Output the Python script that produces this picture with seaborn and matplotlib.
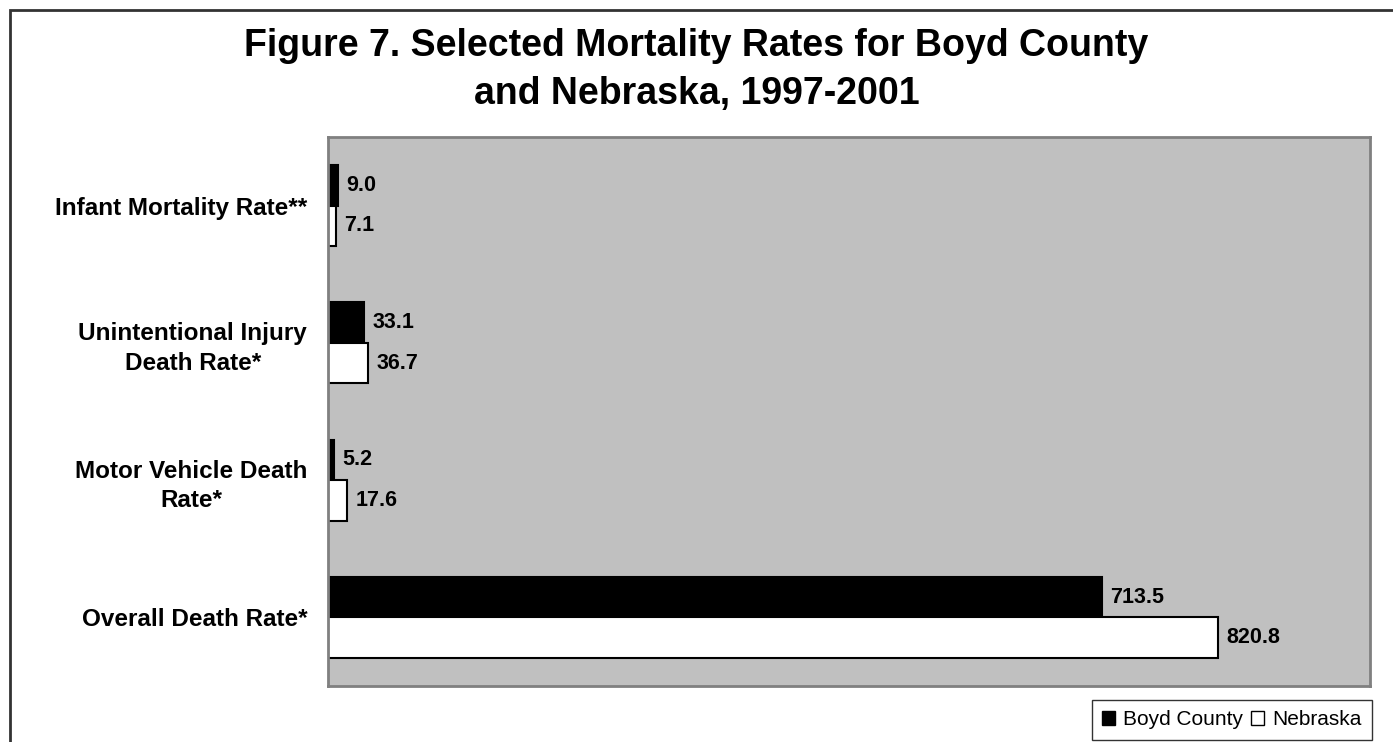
import pandas as pd
import seaborn as sns
import matplotlib.pyplot as plt
from matplotlib.patches import Patch, Rectangle

# values
categories = ['Infant Mortality Rate**', 'Unintentional Injury\nDeath Rate*',
              'Motor Vehicle Death\nRate*', 'Overall Death Rate*']
boyd_county = [9.0, 33.1, 5.2, 713.5]
nebraska = [7.1, 36.7, 17.6, 820.8]
series = ['Boyd County', 'Nebraska']

data = pd.DataFrame({
    'Category': categories * 2,
    'Rate': boyd_county + nebraska,
    'Area': [series[0]] * 4 + [series[1]] * 4,
})

sns.set_style('white')
plt.rcParams['font.family'] = ['Liberation Sans', 'DejaVu Sans']
plt.rcParams['text.color'] = 'black'
plt.rcParams['ytick.color'] = 'black'

fig = plt.figure(figsize=(13.93, 7.42), dpi=100)
ax = fig.add_axes([328 / 1393, 1 - 686 / 742, (1370 - 328) / 1393, (686 - 137) / 742])

sns.barplot(data=data, y='Category', x='Rate', hue='Area', orient='h',
            palette={'Boyd County': 'black', 'Nebraska': 'white'},
            edgecolor='black', linewidth=1.5, width=0.59, ax=ax, legend=False)

ax.set_facecolor('#C0C0C0')
ax.set_xlim(0, 961)
ax.set_xticks([])
ax.set_xlabel('')
ax.set_ylabel('')
ax.tick_params(axis='y', length=0, pad=15)
for lbl in ax.get_yticklabels():
    lbl.set_fontsize(17.5)
    lbl.set_fontweight('bold')
    lbl.set_multialignment('center')
    lbl.set_linespacing(1.35)
for side in ax.spines.values():
    side.set_color('#808080')
    side.set_linewidth(2)

# value labels next to each bar
for container in ax.containers:
    ax.bar_label(container, fmt='%.1f', padding=6, fontsize=15.5, fontweight='bold')

fig.suptitle('Figure 7. Selected Mortality Rates for Boyd County\nand Nebraska, 1997-2001',
             fontsize=27, fontweight='bold', x=0.5, y=0.962, linespacing=1.42)

# outer chart border
fig.patches.append(Rectangle((10 / 1393, -0.1), 1.2, 1 - 10 / 742 + 0.1,
                             transform=fig.transFigure, fill=False,
                             edgecolor='#333333', linewidth=2))

handles = [Patch(facecolor='black', edgecolor='black', label=series[0]),
           Patch(facecolor='white', edgecolor='black', label=series[1])]
leg = fig.legend(handles=handles, loc='upper right', ncol=2,
                 bbox_to_anchor=(1372 / 1393, 1 - 700 / 742), fontsize=15,
                 frameon=True, fancybox=False, handlelength=0.6, handleheight=0.6,
                 handletextpad=0.4, columnspacing=0.4, borderpad=0.5, borderaxespad=0)
leg.get_frame().set_edgecolor('black')
leg.get_frame().set_linewidth(1)

plt.savefig('out.png', dpi=100)
plt.close()
